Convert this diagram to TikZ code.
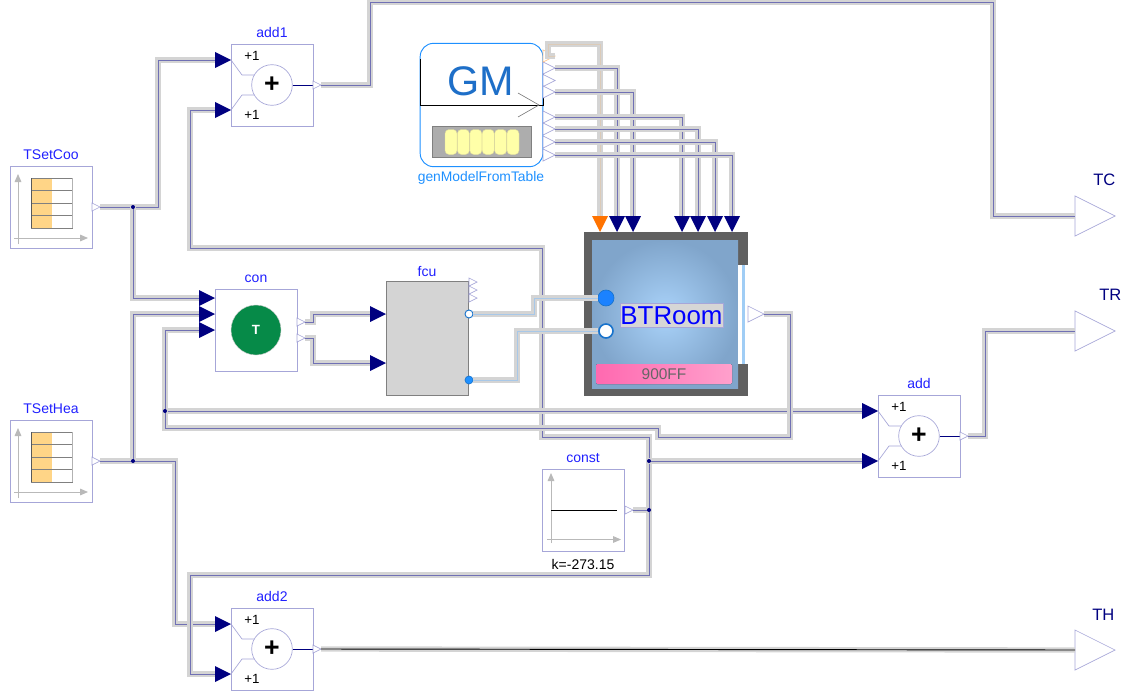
\documentclass[tikz,border=0pt]{standalone}
\usepackage{fontspec}
\setmainfont{Liberation Sans}
\usepackage{xcolor}
\usepackage{tikz}
\usetikzlibrary{calc,arrows.meta,positioning,shapes.geometric}
\definecolor{navyc}{HTML}{000080}
\definecolor{edgec}{HTML}{A6A6D8}
\definecolor{wirec}{HTML}{7070B4}
\definecolor{shadec}{HTML}{D4D4D4}
\definecolor{titlec}{HTML}{2020FF}
\definecolor{gmc}{HTML}{1E90FF}
\definecolor{tabc}{HTML}{FFD587}
\definecolor{greenc}{HTML}{068A48}
\definecolor{gmtext}{HTML}{1E6FC8}
\definecolor{wallc}{HTML}{606060}
\definecolor{airin}{HTML}{AAD3FA}
\definecolor{airout}{HTML}{80A5CB}
\definecolor{glassc}{HTML}{A0CDF5}
\definecolor{pinkl}{HTML}{FF69B0}
\definecolor{pinkr}{HTML}{FFA0CC}
\definecolor{cellc}{HTML}{FFFFA8}
\definecolor{heatc}{HTML}{A8C8E8}
\definecolor{beigec}{HTML}{DCCBB8}
\tikzset{
  blk/.style={draw=edgec,fill=white,line width=0.6pt},
  ttl/.style={font=\fontsize{10.5}{12}\selectfont,text=titlec,inner sep=0pt,anchor=base},
  lbl/.style={font=\fontsize{10}{12}\selectfont,text=black,inner sep=0pt},
  inp/.style={isosceles triangle,isosceles triangle stretches,isosceles triangle apex angle=60,shape border rotate=0,fill=navyc,inner sep=0pt,outer sep=0pt,minimum width=12pt,minimum height=12pt,anchor=apex},
  inpd/.style={inp,shape border rotate=-90},
  outp/.style={isosceles triangle,isosceles triangle stretches,isosceles triangle apex angle=60,draw=edgec,fill=white,line width=0.5pt,inner sep=0pt,outer sep=0pt,minimum width=#1,minimum height=#1,anchor=apex},
  outp/.default=6pt,
  jn/.style={circle,fill=navyc,inner sep=0pt,minimum size=3pt},
  shd/.style={draw=shadec,line width=4pt},
  cor/.style={draw=wirec,line width=0.4pt},
  axs/.style={draw=gray!55,line width=0.6pt,-{Triangle[length=6pt,width=5pt]}}
}
\newcommand{\conn}[2][]{\draw[shd] #2; \draw[cor,#1] #2;}
\begin{document}
\begin{tikzpicture}[x=0.75pt,y=-0.75pt]
\useasboundingbox (0,0) rectangle (1121,692);
\clip (0,0) rectangle (1121,692);
% time tables
\foreach \nm/\ty in {TSetCoo/166,TSetHea/420}{
  \node[blk,minimum size=61.5pt,inner sep=0pt,anchor=north west] (\nm) at (10,\ty) {};
  \node[ttl] at (51,\ty-6.5) {\nm};
  \node[outp] (\nm o) at (100,\ty+41) {};
  \draw[axs] (18,\ty+78) -- (18,\ty+8);
  \draw[axs] (14,\ty+72) -- (88,\ty+72);
  \fill[tabc] (31,\ty+12) rectangle (52,\ty+62);
  \foreach \r in {12,24.5,37,49.5,62}{\draw[gray,line width=0.6pt] (31,\ty+\r) -- (72.5,\ty+\r);}
  \draw[gray!70!black,line width=0.6pt] (31,\ty+12) -- (31,\ty+62);
  \draw[gray!60,line width=0.6pt] (72.5,\ty+12) -- (72.5,\ty+62);
}
% adders
\foreach \nm/\cx/\cy in {add1/272/85,add/919/436,add2/272/649}{
  \node[blk,minimum size=61.5pt,inner sep=0pt] (\nm) at (\cx,\cy) {};
  \node[ttl] at (\cx,\cy-47.5) {\nm};
  \node[lbl] at (\cx-20,\cy-29) {+1};
  \node[lbl] at (\cx-20,\cy+30) {+1};
  \draw[edgec,line width=0.5pt] (\cx-41,\cy-25) -- (\cx-30,\cy-10) -- (\cx-18,\cy-10);
  \draw[edgec,line width=0.5pt] (\cx-41,\cy+25) -- (\cx-30,\cy+10) -- (\cx-18,\cy+10);
  \node[circle,draw=edgec,fill=white,line width=0.5pt,minimum size=30.5pt,inner sep=0pt,font=\fontsize{20}{20}\selectfont\bfseries] (\nm c) at (\cx,\cy) {+};
  \draw[navyc,line width=0.7pt] (\nm c.east) -- (\cx+41,\cy);
  \node[inp] (\nm a) at (\cx-41,\cy-25) {};
  \node[inp] (\nm b) at (\cx-41,\cy+25) {};
  \node[outp] (\nm o) at (\cx+49,\cy) {};
}
% controller
\node[blk,minimum size=61.5pt,inner sep=0pt] (con) at (256,330) {};
\node[ttl] at (256,282.5) {con};
\node[circle,fill=greenc,draw=gray!40,line width=0.3pt,minimum size=37.5pt,inner sep=0pt,text=white,font=\fontsize{10}{10}\selectfont\bfseries] (conT) at (256,330) {T};
\node[inp] (cona) at (215,298) {};
\node[inp] (conb) at (215,314) {};
\node[inp] (conc) at (215,330) {};
\node[outp] (cony) at (305,322) {};
\node[outp] (conz) at (305,338) {};
% fan coil
\node[draw=gray,fill=black!17,line width=0.6pt,minimum width=61.5pt,minimum height=86pt,inner sep=0pt] (fcu) at (427,338.5) {};
\node[ttl] at (427,276) {fcu};
\node[inp] (fcua) at (386,314) {};
\node[inp] (fcub) at (386,363) {};
\foreach \ry in {282,290,298}{\node[outp] at (477,\ry) {};}
\node[circle,draw=gmc!80!black,fill=white,line width=0.7pt,minimum size=6pt,inner sep=0pt] (fcuh) at (469,314) {};
\node[circle,draw=gmc!80!black,fill=gmc,line width=0.5pt,minimum size=6pt,inner sep=0pt] (fcuc) at (469,380) {};
% room
\fill[wallc] (584,232) rectangle (748,396);
\fill[inner color=airin,outer color=airout] (592,240) rectangle (738,388);
\fill[white] (738,265) rectangle (748,364);
\fill[glassc] (741.5,265) rectangle (745,364);
\fill[left color=pinkl,right color=pinkr,rounded corners=1pt] (596,364) rectangle (732,384);
\node[text=black!60,font=\fontsize{11.6}{12}\selectfont] at (664,374) {900FF};
\node[draw=blue!40!gray!50,fill=black!16,line width=0.5pt,text=blue,inner sep=0pt,minimum width=77pt,minimum height=18pt,font=\fontsize{19.4}{20}\selectfont] (room) at (671.5,315.5) {BTRoom};
\node[circle,draw=gmc!80!black,fill=gmc!90!blue,line width=0.5pt,minimum size=12pt,inner sep=0pt] (roomhc) at (606,298) {};
\node[circle,draw=gmc!80!black,fill=white,line width=1.2pt,minimum size=10.5pt,inner sep=0pt] (roomhh) at (606,331) {};
\node[outp=12pt] (roomo) at (764,314) {};
\node[inp,fill=orange!90!red,shape border rotate=-90] (roomq) at (600,232) {};
\foreach \nm/\px in {a/617,b/633,c/682,d/698,e/715,f/732}{\node[inpd] (room\nm) at (\px,232) {};}
% generator
\node[draw=gmc,line width=0.7pt,fill=white,rounded corners=10pt,minimum width=92pt,minimum height=92.5pt,inner sep=0pt] (gm) at (481.5,105) {};
\draw[black,line width=0.7pt] (420,59) -- (420,105) -- (543,105) -- (543,59);
\draw[gray,line width=0.5pt] (518,93) -- (539,105) -- (518,117);
\node[text=gmtext,font=\fontsize{31}{32}\selectfont] at (481,81) {GM};
\node[draw=gray,fill=black!32,line width=0.4pt,minimum width=74pt,minimum height=23pt,inner sep=0pt] (gmb) at (481.5,141.5) {};
\foreach \q in {0,...,5}{\fill[cellc,draw=yellow!50!gray!60,line width=0.3pt,rounded corners=3pt] (445+\q*12.4,129.5) rectangle (457+\q*12.4,154.5);}
\node[font=\fontsize{10.4}{12}\selectfont,text=gmc,inner sep=0pt] at (481,178) {genModelFromTable};
\foreach \nm/\ry in {a/68,n/80.5,b/92,c/117,d/129,e/142,f/155}{\node[outp=9pt] (gm\nm) at (555,\ry) {};}
\node[outp=9pt,draw=orange!45] (gmq) at (555,56) {};
% outputs
\node[outp=30pt] (TC) at (1115,216) {};
\node[outp=30pt] (TR) at (1115,331) {};
\node[outp=30pt] (TH) at (1115,650) {};
\node[text=navyc,font=\fontsize{12.4}{14}\selectfont,anchor=west,inner sep=0pt] at (1093,180) {TC};
\node[text=navyc,font=\fontsize{12.4}{14}\selectfont,anchor=west,inner sep=0pt] at (1099,295) {TR};
\node[text=navyc,font=\fontsize{12.4}{14}\selectfont,anchor=west,inner sep=0pt] at (1092,615) {TH};
% junctions
\coordinate (c1) at (133,207);
\coordinate (c2) at (133,461);
\coordinate (c3) at (165,411);
\coordinate (c4) at (649,461);
\coordinate (c5) at (649,510);
% const
\node[blk,minimum size=61.5pt,inner sep=0pt] (const) at (583.5,510) {};
\node[ttl] at (583,462.5) {const};
\node[lbl,font=\fontsize{10.5}{12}\selectfont] at (583,564) {k=-273.15};
\draw[axs] (551,543) -- (551,473);
\draw[axs] (547,539.5) -- (621,539.5);
\draw[black,line width=0.7pt] (551,510) -- (617,510);
\node[outp] (consto) at (633,510) {};
% wires
\conn[draw=beigec]{(gmq.apex) -- (548,56) -- (548,44) -- (600,44) -- (roomq.lower side)}
\conn{(gma.apex) -| (rooma.lower side)}
\conn{(gmb.apex) -| (roomb.lower side)}
\conn{(gmc.apex) -| (roomc.lower side)}
\conn{(gmd.apex) -| (roomd.lower side)}
\conn{(gme.apex) -| (roome.lower side)}
\conn{(gmf.apex) -| (roomf.lower side)}
\conn{(add1o.apex) -- (370,85) -- (370,2) -- (993,2) |- (TC.lower side)}
\conn{(addo.apex) -- (985,436) |- (TR.lower side)}
\conn[draw=black,line width=0.7pt]{(add2o.apex) -- (TH.lower side)}
\conn{(TSetCooo.apex) -- (158,207) |- (add1a.lower side)}
\conn{(c1) |- (cona.lower side)}
\conn{(TSetHeao.apex) -- (175,461) |- (add2a.lower side)}
\conn{(c2) |- (conb.lower side)}
\conn{(c5) -- (649,437) -- (542,437) -- (542,248) -- (190,248) |- (add1b.lower side)}
\conn{(c5) -- (649,575) -- (190,575) |- (add2b.lower side)}
\conn{(consto.apex) -- (c5)}
\conn{(c4) -- (addb.lower side)}
\conn{(c3) -- (adda.lower side)}
\conn{(roomo.apex) -- (790,314) -- (790,437) -- (658,437) -- (658,428) -- (165,428) |- (conc.lower side)}
\conn{(cony.apex) -- (313,322) -- (313,314) -- (fcua.lower side)}
\conn{(conz.apex) -- (313,338) -- (313,363) -- (fcub.lower side)}
\conn[draw=heatc]{(fcuh.east) -- (534,314) -- (534,298) -- (roomhc.west)}
\conn[draw=heatc]{(fcuc.east) -- (517,380) -- (517,331) -- (roomhh.west)}
\foreach \c in {c1,c2,c3,c4,c5}{\node[jn] at (\c) {};}
\end{tikzpicture}
\end{document}
